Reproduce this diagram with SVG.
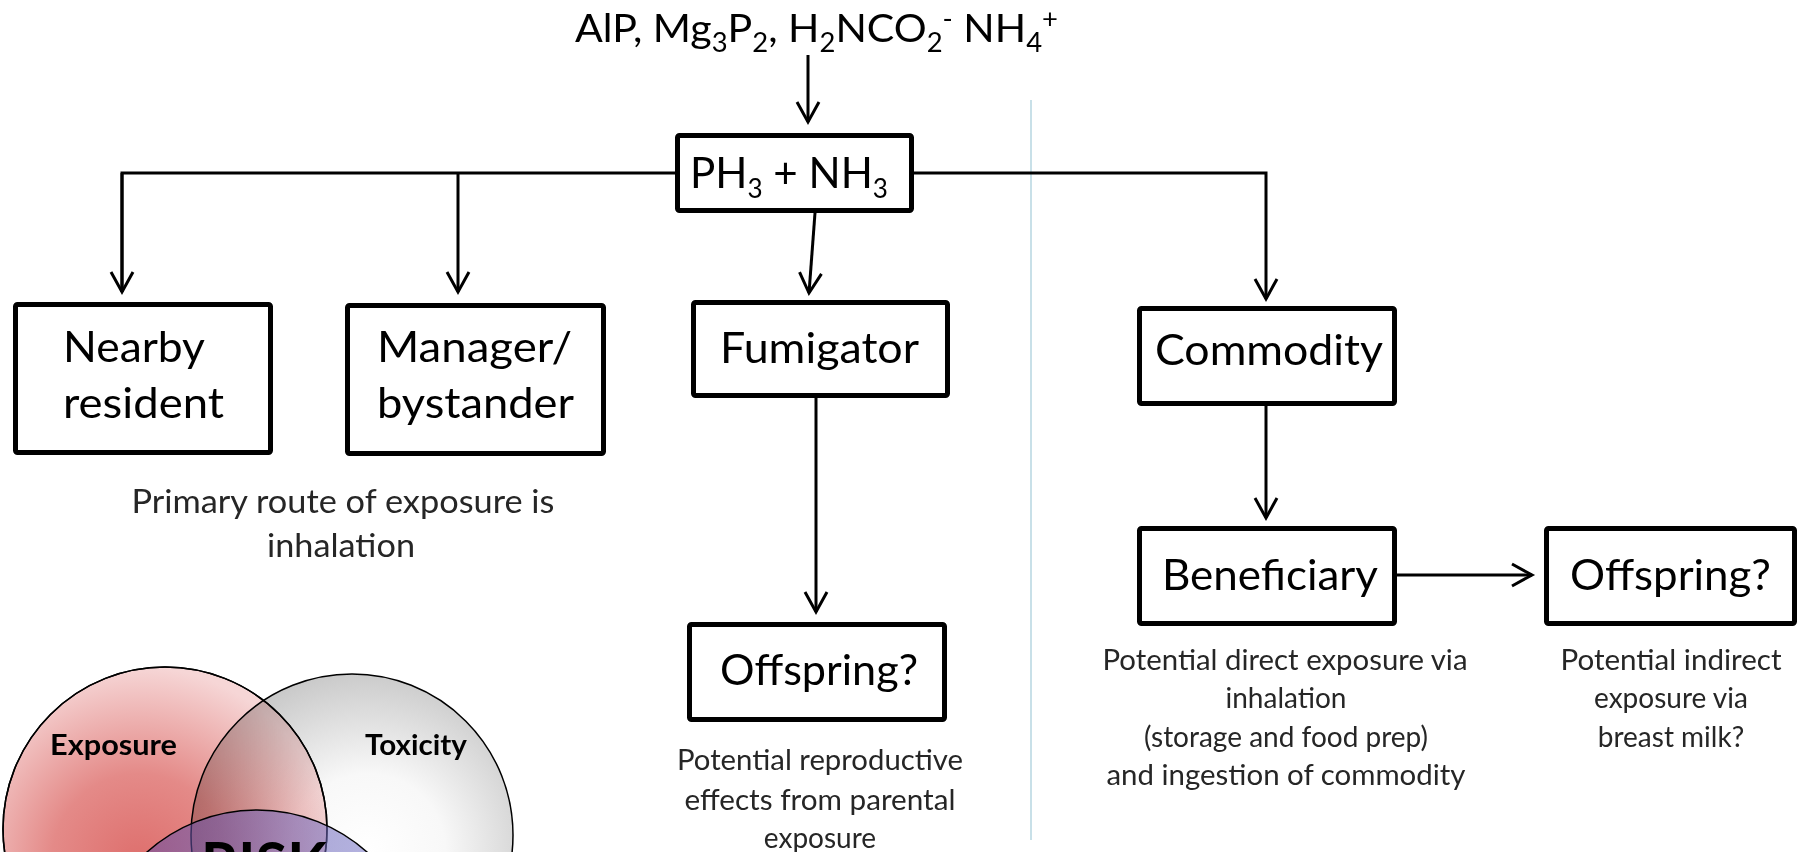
<svg xmlns="http://www.w3.org/2000/svg" width="1800" height="852" viewBox="0 0 1800 852">
  <style>
    .box { fill: #ffffff; stroke: #000000; stroke-width: 5; stroke-linejoin: round; }
    .conn { fill: none; stroke: #000000; stroke-width: 3; }
    .lbl { font-family: Lato, "Liberation Sans", sans-serif; font-size: 42px; fill: #000000; }
    .title { font-family: Lato, "Liberation Sans", sans-serif; font-size: 39px; fill: #000000; }
    .sub { font-size: 26px; }
    .note { font-family: Lato, "Liberation Sans", sans-serif; font-size: 28px; fill: #262626; text-anchor: middle; }
    .note2 { font-family: Lato, "Liberation Sans", sans-serif; font-size: 32px; fill: #262626; text-anchor: middle; }
    .venn { font-family: Lato, "Liberation Sans", sans-serif; font-weight: bold; fill: #000000; }
  </style>
  <defs>
    <marker id="arr" markerUnits="userSpaceOnUse" markerWidth="30" markerHeight="30" viewBox="-25 -15 30 30" refX="0" refY="0" orient="auto">
      <path d="M-20,-11 L0,0 L-20,11" fill="none" stroke="#000000" stroke-width="3" stroke-linejoin="miter"/>
    </marker>
    <radialGradient id="gExp" cx="0.42" cy="0.6" r="0.6">
      <stop offset="0" stop-color="#de6f6d"/>
      <stop offset="0.45" stop-color="#e48a88"/>
      <stop offset="1" stop-color="#f6d6d6"/>
    </radialGradient>
    <radialGradient id="gTox" cx="0.55" cy="0.55" r="0.6">
      <stop offset="0" stop-color="#ffffff"/>
      <stop offset="0.4" stop-color="#f8f8f8"/>
      <stop offset="1" stop-color="#c4c4c4"/>
    </radialGradient>
    <linearGradient id="gRisk" x1="0" y1="0" x2="1" y2="0.3">
      <stop offset="0" stop-color="#5a3f9a"/>
      <stop offset="1" stop-color="#7c80d0"/>
    </linearGradient>
  </defs>

  <!-- separator -->
  <line x1="1031" y1="100" x2="1031" y2="840" stroke="#c8e0e8" stroke-width="2"/>

  <!-- connectors -->
  <g id="connectors">
    <line class="conn" x1="808" y1="55" x2="808" y2="122" marker-end="url(#arr)"/>
    <polyline class="conn" points="122,292 122,173 1266,173 1266,299" marker-end="url(#arr)"/>
    <line class="conn" x1="122" y1="173" x2="122" y2="292" marker-end="url(#arr)"/>
    <line class="conn" x1="458" y1="173" x2="458" y2="292" marker-end="url(#arr)"/>
    <line class="conn" x1="815" y1="213" x2="809" y2="293" marker-end="url(#arr)"/>
    <line class="conn" x1="816" y1="398" x2="816" y2="612" marker-end="url(#arr)"/>
    <line class="conn" x1="1266" y1="406" x2="1266" y2="518" marker-end="url(#arr)"/>
    <line class="conn" x1="1397" y1="575" x2="1532" y2="575" marker-end="url(#arr)"/>
  </g>

  <!-- title -->
  <g id="source">
    <text class="title" x="575" y="42" textLength="483" lengthAdjust="spacingAndGlyphs">AlP, Mg<tspan class="sub" dy="10">3</tspan><tspan dy="-10">P</tspan><tspan class="sub" dy="10">2</tspan><tspan dy="-10">, H</tspan><tspan class="sub" dy="10">2</tspan><tspan dy="-10">NCO</tspan><tspan class="sub" dy="10">2</tspan><tspan class="sub" dy="-24">-</tspan><tspan dy="14"> NH</tspan><tspan class="sub" dy="10">4</tspan><tspan class="sub" dy="-24">+</tspan></text>
  </g>

  <g id="ph3">
    <rect class="box" x="677.5" y="135.5" width="234" height="75" rx="2"/>
    <text class="lbl" x="690" y="188" textLength="198" lengthAdjust="spacingAndGlyphs">PH<tspan class="sub" dy="10">3</tspan><tspan dy="-10"> + NH</tspan><tspan class="sub" dy="10">3</tspan></text>
  </g>

  <g id="nearby">
    <rect class="box" x="15.5" y="304.5" width="255" height="148" rx="2"/>
    <text class="lbl" x="63" y="362" textLength="142" lengthAdjust="spacingAndGlyphs">Nearby</text>
    <text class="lbl" x="63" y="418" textLength="161" lengthAdjust="spacingAndGlyphs">resident</text>
  </g>

  <g id="manager">
    <rect class="box" x="347.5" y="305.5" width="256" height="148" rx="2"/>
    <text class="lbl" x="377" y="362" textLength="195" lengthAdjust="spacingAndGlyphs">Manager/</text>
    <text class="lbl" x="377" y="418" textLength="197" lengthAdjust="spacingAndGlyphs">bystander</text>
  </g>

  <g id="fumigator">
    <rect class="box" x="693.5" y="302.5" width="254" height="93" rx="2"/>
    <text class="lbl" x="720" y="363" textLength="199" lengthAdjust="spacingAndGlyphs">Fumigator</text>
  </g>

  <g id="offspring1">
    <rect class="box" x="689.5" y="624.5" width="255" height="95" rx="2"/>
    <text class="lbl" x="720" y="685" textLength="198" lengthAdjust="spacingAndGlyphs">Offspring?</text>
  </g>

  <g id="commodity">
    <rect class="box" x="1139.5" y="308.5" width="255" height="95" rx="2"/>
    <text class="lbl" x="1155" y="365" textLength="228" lengthAdjust="spacingAndGlyphs">Commodity</text>
  </g>

  <g id="beneficiary">
    <rect class="box" x="1139.5" y="528.5" width="255" height="95" rx="2"/>
    <text class="lbl" x="1162" y="590" textLength="216" lengthAdjust="spacingAndGlyphs">Beneficiary</text>
  </g>

  <g id="offspring2">
    <rect class="box" x="1546.5" y="528.5" width="248" height="95" rx="2"/>
    <text class="lbl" x="1570" y="590" textLength="201" lengthAdjust="spacingAndGlyphs">Offspring?</text>
  </g>

  <!-- notes -->
  <g id="note-inhalation">
    <text class="note2" x="343" y="513" textLength="423" lengthAdjust="spacingAndGlyphs">Primary route of exposure is</text>
    <text class="note2" x="341" y="557" textLength="148" lengthAdjust="spacingAndGlyphs">inhalation</text>
  </g>
  <g id="note-reproductive">
    <text class="note" x="820" y="770" textLength="286" lengthAdjust="spacingAndGlyphs">Potential reproductive</text>
    <text class="note" x="820" y="810" textLength="271" lengthAdjust="spacingAndGlyphs">effects from parental</text>
    <text class="note" x="820" y="848">exposure</text>
  </g>
  <g id="note-direct">
    <text class="note" x="1285" y="670" textLength="365" lengthAdjust="spacingAndGlyphs">Potential direct exposure via</text>
    <text class="note" x="1286" y="708">inhalation</text>
    <text class="note" x="1286" y="747">(storage and food prep)</text>
    <text class="note" x="1286" y="785" textLength="359" lengthAdjust="spacingAndGlyphs">and ingestion of commodity</text>
  </g>
  <g id="note-indirect">
    <text class="note" x="1671" y="670" textLength="221" lengthAdjust="spacingAndGlyphs">Potential indirect</text>
    <text class="note" x="1671" y="708">exposure via</text>
    <text class="note" x="1671" y="747">breast milk?</text>
  </g>

  <!-- Venn diagram -->
  <g id="venn">
    <circle cx="165" cy="829" r="162" fill="url(#gExp)" stroke="#000000" stroke-width="1.5"/>
    <circle cx="352" cy="835" r="161" fill="url(#gTox)" stroke="#000000" stroke-width="1.5" style="mix-blend-mode: multiply"/>
    <circle cx="165" cy="829" r="162" fill="none" stroke="#000000" stroke-width="1.5"/>
    <circle cx="257" cy="975" r="165" fill="url(#gRisk)" fill-opacity="0.55" stroke="#000000" stroke-width="1.5"/>
    <text class="venn" x="50" y="755" font-size="29" textLength="127" lengthAdjust="spacingAndGlyphs">Exposure</text>
    <text class="venn" x="365" y="755" font-size="29" textLength="102" lengthAdjust="spacingAndGlyphs">Toxicity</text>
    <text class="venn" x="201" y="885" font-size="60" textLength="126" lengthAdjust="spacingAndGlyphs">RISK</text>
  </g>
</svg>
